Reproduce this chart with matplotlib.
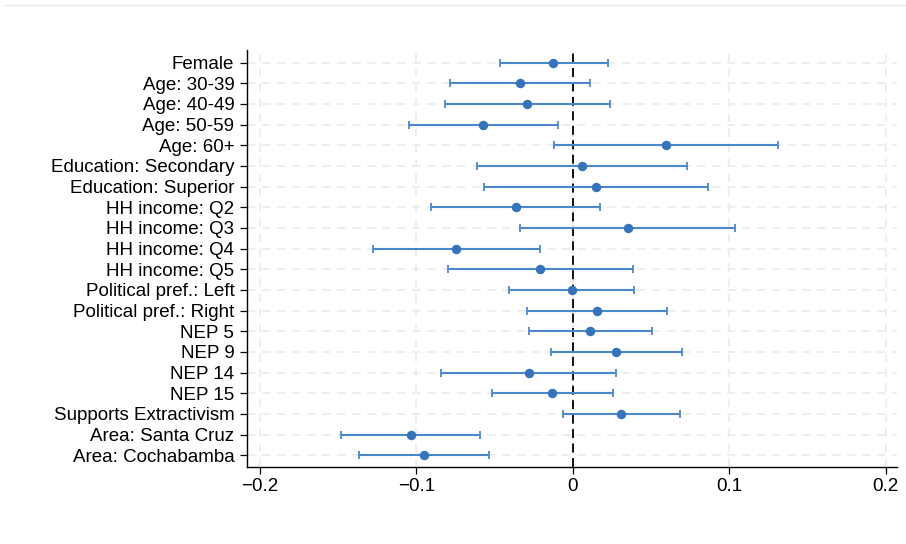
import numpy as np
import matplotlib
matplotlib.use('Agg')
import matplotlib.pyplot as plt
from matplotlib.lines import Line2D

plt.rcParams['font.family'] = ['Liberation Sans', 'DejaVu Sans']

labels = ['Female', 'Age: 30-39', 'Age: 40-49', 'Age: 50-59', 'Age: 60+',
          'Education: Secondary', 'Education: Superior',
          'HH income: Q2', 'HH income: Q3', 'HH income: Q4', 'HH income: Q5',
          'Political pref.: Left', 'Political pref.: Right',
          'NEP 5', 'NEP 9', 'NEP 14', 'NEP 15',
          'Supports Extractivism', 'Area: Santa Cruz', 'Area: Cochabamba']
coef = [-0.0125, -0.0339, -0.0290, -0.0573, 0.0597,
        0.0058, 0.0149,
        -0.0366, 0.0350, -0.0745, -0.0208,
        -0.0008, 0.0156,
        0.0111, 0.0275, -0.0283, -0.0134,
        0.0311, -0.1037, -0.0954]
ci_low = [-0.0468, -0.0788, -0.0816, -0.1050, -0.0121,
          -0.0615, -0.0566,
          -0.0905, -0.0339, -0.1280, -0.0800,
          -0.0406, -0.0290,
          -0.0281, -0.0138, -0.0841, -0.0518,
          -0.0061, -0.1480, -0.1370]
ci_high = [0.0222, 0.0109, 0.0237, -0.0098, 0.1314,
           0.0733, 0.0863,
           0.0171, 0.1038, -0.0211, 0.0386,
           0.0394, 0.0601,
           0.0505, 0.0695, 0.0275, 0.0254,
           0.0686, -0.0594, -0.0537]
xticks = [-0.2, -0.1, 0, 0.1, 0.2]
xticklabels = ['\u22120.2', '\u22120.1', '0', '0.1', '0.2']

coef = np.array(coef)
lo = coef - np.array(ci_low)
hi = np.array(ci_high) - coef
y = np.arange(len(labels))

fig = plt.figure(figsize=(9.06, 5.44), dpi=100)
ax = fig.add_axes([0.273, 0.141, 0.717, 0.767])

for yy in y:
    ax.axhline(yy, color='#ebebeb', lw=1.2, ls=(0, (5, 4)), zorder=0)
for xx in xticks:
    ax.axvline(xx, color='#ebebeb', lw=1.2, ls=(0, (5, 4)), zorder=0)
ax.axvline(0, color='black', lw=1.3, ls=(0, (5, 3)), zorder=1)

ax.errorbar(coef, y, xerr=[lo, hi], fmt='none', ecolor='#4d87cb',
            elinewidth=1.5, capsize=3, capthick=1.3, zorder=2)
ax.plot(coef, y, 'o', color='#3573bd', ms=5.8, zorder=3)

ax.set_xlim(-0.2081, 0.2072)
ax.set_ylim(19.58, -0.61)
ax.set_yticks(y)
ax.set_yticklabels(labels, fontsize=13.5)
ax.set_xticks(xticks)
ax.set_xticklabels(xticklabels, fontsize=13.5)
ax.tick_params(axis='y', length=5, width=0.9, pad=4.4)
ax.tick_params(axis='x', length=5, width=0.9, pad=3)
for s in ['top', 'right']:
    ax.spines[s].set_visible(False)
for s in ['left', 'bottom']:
    ax.spines[s].set_linewidth(1.0)

fig.add_artist(Line2D([0.0055, 1.0], [0.9908, 0.9908], color='#e6e6e6', lw=1.0))

fig.savefig('out.png', dpi=100)
